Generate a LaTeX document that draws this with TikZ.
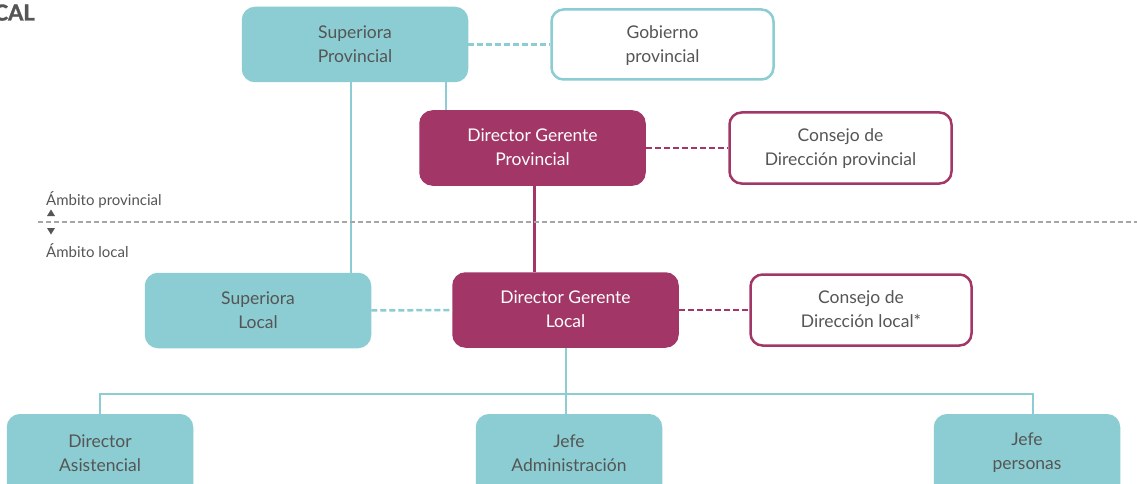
\documentclass[tikz,border=0pt]{standalone}
\usepackage{fontspec}
\setmainfont{Lato}
\newfontfamily\titlefont[BoldFeatures={FakeBold=1.5}]{Lato}
\definecolor{teal1}{HTML}{8BCDD2}
\definecolor{mag}{HTML}{A23767}
\definecolor{txt}{HTML}{555555}
\begin{document}
\begin{tikzpicture}[x=1pt,y=-1pt,
  box/.style={rounded corners=12pt, minimum width=224pt, minimum height=73pt, inner sep=0pt, align=center,
    font=\fontsize{17.5}{24}\selectfont, line width=2.5pt, text depth=1pt},
  tealbox/.style={box, fill=teal1, draw=teal1, text=txt},
  magbox/.style={box, fill=mag, draw=mag, text=white},
  tealout/.style={box, fill=white, draw=teal1, text=txt},
  magout/.style={box, fill=white, draw=mag, text=txt},
  lowbox/.style={tealbox, minimum width=184pt, minimum height=90pt},
  lowtext/.style={text=txt, font=\fontsize{17.5}{24}\selectfont, align=center, inner sep=0pt},
  tline/.style={draw=teal1, line width=2.5pt},
  mline/.style={draw=mag, line width=2.5pt},
  dash1/.style={dash pattern=on 6pt off 3pt},
  lbl/.style={text=txt, font=\fontsize{15}{17}\selectfont, inner sep=0pt}
]
\useasboundingbox (0,0) rectangle (1137,484);
\clip (0,0) rectangle (1137,484);
\fill[white] (0,0) rectangle (1137,484);

% boxes
\node[tealbox] (SP) at (355,44.5) {Superiora\\Provincial};
\node[tealout, minimum width=222pt, minimum height=70pt] (GP) at (662.5,44.5) {Gobierno\\provincial};
\node[magbox] (DGP) at (532.5,148) {Director Gerente\\Provincial};
\node[magout, minimum width=222pt, minimum height=71pt] (CDP) at (840.5,148) {Consejo de\\Dirección provincial};
\node[tealbox] (SL) at (258,310.5) {Superiora\\Local};
\node[magbox] (DGL) at (565.5,310) {Director Gerente\\Local};
\node[magout, minimum width=221pt, minimum height=71pt] (CDL) at (861,310) {Consejo de\\Dirección local*};
\node[lowbox, anchor=north] (DA) at (100,414) {};
\node[lowbox, anchor=north] (JA) at (569,414) {};
\node[lowbox, anchor=north] (JP) at (1027,414) {};
\node[lowtext] (DAt) at (100,453) {Director\\Asistencial};
\node[lowtext] (JAt) at (569,453) {Jefe\\Administración};
\node[lowtext] (JPt) at (1027,453) {Jefe\\personas};

% solid connectors
\draw[tline] ([xshift=-4pt]SP.south) -- ([xshift=-4pt]SP.south |- SL.north);
\draw[tline] ([xshift=91pt]SP.south) -- ([xshift=91pt]SP.south |- DGP.north);
\draw[mline] ([xshift=2pt]DGP.south) -- ([xshift=2pt]DGP.south |- DGL.north);
\coordinate (bus) at (566,394);
\draw[tline] (DGL.south -| bus) -- (bus);
\draw[tline] (bus) -| (DA.north);
\draw[tline] (bus) -| ([xshift=6pt]JP.north);
\draw[tline] (bus) -- (bus |- JA.north);

% dashed connectors
\draw[tline, dash1] (SP.east) -- (GP.west);
\draw[mline, dash1] (DGP.east) -- (CDP.west);
\draw[tline, dash1] (SL.east) -- (DGL.west);
\draw[mline, dash1] (DGL.east) -- (CDL.west);

% scope divider
\coordinate (d1) at (38,222);
\coordinate (d2) at (1137,222);
\draw[draw=black!35, line width=1.3pt, dash pattern=on 5pt off 3pt] (d1) -- (d2);
\node[lbl, anchor=base west] (AP) at (46,205) {Ámbito provincial};
\node[lbl, anchor=base west] (AL) at (46,257) {Ámbito local};
\fill[txt] (47,216) -- (55,216) -- (51,209.5) -- cycle;
\fill[txt] (47,228) -- (55,228) -- (51,234.5) -- cycle;

% title fragment
\node[text=txt, font=\fontsize{22}{26}\selectfont\titlefont\bfseries, inner sep=0pt, anchor=base east] (T) at (35,20.5) {CAL};
\end{tikzpicture}
\end{document}
